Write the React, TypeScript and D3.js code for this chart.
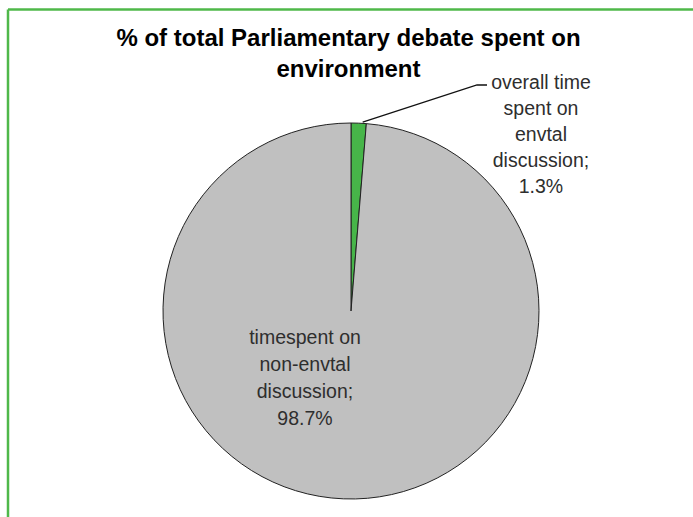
import React from "react";
import * as d3 from "d3";

const categories = ["overall time spent on envtal discussion", "timespent on non-envtal discussion"];
const values = [1.3, 98.7];
const labelLines = [
  ["overall time", "spent on", "envtal", "discussion;", "1.3%"],
  ["timespent on", "non-envtal", "discussion;", "98.7%"],
];
const colors = ["#47b549", "#c0c0c0"];
const title = ["% of total Parliamentary debate spent on", "environment"];

const W = 693;
const H = 517;

export default function App() {
  const cx = 351;
  const cy = 311;
  const r = 188;
  const data = categories.map((c, i) => ({ c, v: values[i], i }));
  const pie = d3.pie<any>().sort(null).value((d: any) => d.v).startAngle(0).endAngle(2 * Math.PI);
  const arcs = pie(data);
  const arc = d3.arc<any>().innerRadius(0).outerRadius(r);

  const a0 = arcs[0];
  const mid = (a0.startAngle + a0.endAngle) / 2;
  const p0: [number, number] = [cx + r * Math.sin(mid) + 4, cy - r * Math.cos(mid) - 1];
  const p1: [number, number] = [477, 85];
  const p2: [number, number] = [487, 85];
  const line = d3.line();

  return (
    <div style={{ position: "absolute", left: 0, top: 0, width: W, height: H, background: "#ffffff" }}>
      <svg width={W} height={H} style={{ display: "block" }}>
        <rect x={0} y={0} width={W} height={H} fill="#ffffff" />
        <line x1={8} y1={9.5} x2={W} y2={9.5} stroke="#4fb84a" strokeWidth={2.5} />
        <line x1={8} y1={9.5} x2={8} y2={H} stroke="#4fb84a" strokeWidth={2.5} />
        <g fontFamily="Liberation Sans, Arial, sans-serif" fontWeight="bold" fontSize={24} fill="#000" textAnchor="middle">
          <text x={W / 2 + 2} y={46}>{title[0]}</text>
          <text x={W / 2 + 2} y={77}>{title[1]}</text>
        </g>
        <g transform={`translate(${cx},${cy})`}>
          {arcs.map((a, i) => (
            <path key={i} d={arc(a) as string} fill={colors[i]} stroke="#222" strokeWidth={1} />
          ))}
        </g>
        <path d={line([p0, p1, p2]) as string} fill="none" stroke="#111" strokeWidth={1.3} />
        <g fontFamily="Liberation Sans, Arial, sans-serif" fontSize={19.5} fill="#2e2e2e" textAnchor="middle">
          {labelLines[0].map((t, j) => (
            <text key={j} x={541} y={89 + j * 26}>{t}</text>
          ))}
          {labelLines[1].map((t, j) => (
            <text key={j} x={305} y={344 + j * 27}>{t}</text>
          ))}
        </g>
      </svg>
    </div>
  );
}
